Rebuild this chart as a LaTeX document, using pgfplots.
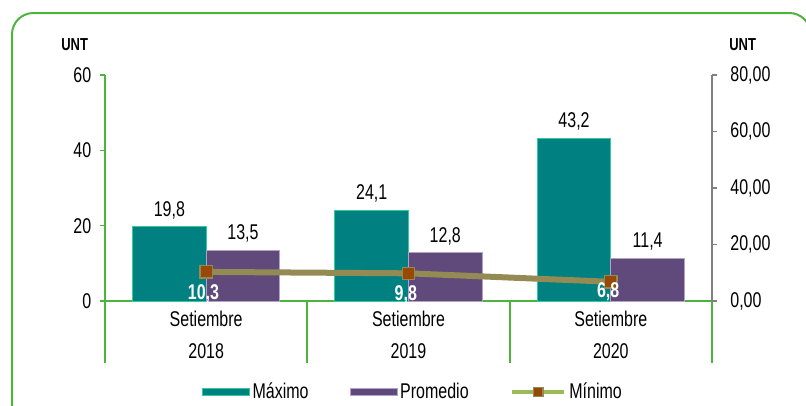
\documentclass[border=0pt]{standalone}
\usepackage{pgfplots}
\pgfplotsset{compat=1.18}
\usepackage{fontspec}
\setmainfont[FakeStretch=0.75]{Liberation Sans}
\definecolor{teal1}{HTML}{008080}
\definecolor{tealedge}{HTML}{33CC99}
\definecolor{purp}{HTML}{604A7B}
\definecolor{purpedge}{HTML}{B3A2C7}
\definecolor{olive1}{HTML}{948A54}
\definecolor{mbrown}{HTML}{984807}
\definecolor{lgreen}{HTML}{9BBB59}
\definecolor{gframe}{HTML}{4CB43C}
\definecolor{gaxis}{HTML}{808080}
\begin{document}
\begin{tikzpicture}
\useasboundingbox (0,0) rectangle (604.5pt,303.75pt);
\begin{scope}
\clip (0,0) rectangle (604.5pt,303.75pt);
\draw[gframe, line width=1.5pt, rounded corners=16pt] (9pt,-20pt) -- (9pt,294pt) -- (608pt,294pt) -- (608pt,-20pt);
\end{scope}
\node[font=\bfseries\fontsize{13}{15}\selectfont] at (56pt,270pt) {UNT};
\node[font=\bfseries\fontsize{13}{15}\selectfont] at (557pt,270pt) {UNT};
\begin{axis}[
  at={(78.75pt,78pt)}, anchor=south west,
  width=455.25pt, height=169.5pt, scale only axis,
  xmin=-0.5, xmax=2.5, ymin=0, ymax=60,
  ytick={0,20,40,60},
  xtick={0,1,2},
  xticklabels={Setiembre\\2018,Setiembre\\2019,Setiembre\\2020},
  xticklabel style={align=center, font=\fontsize{16}{24}\selectfont},
  yticklabel style={font=\fontsize{16}{18}\selectfont, xshift=-3pt},
  axis x line*=bottom, axis y line*=left,
  x axis line style={-, draw=gframe, line width=1.2pt},
  y axis line style={-, draw=gframe, line width=1.2pt},
  tick align=outside, major tick length=3.75pt,
  ytick style={draw=gframe, line width=1.2pt},
  xtick style={draw=none},
  clip=false,
  ybar=0pt, bar width=55.2pt,
  nodes near coords,
  every node near coord/.append style={font=\fontsize{16}{18}\selectfont, text=black, yshift=2pt, /pgf/number format/.cd, fixed, fixed zerofill, precision=1, use comma},
  /pgf/number format/assume math mode=true,
  legend style={at={(axis description cs:0.508,-0.403)}, anchor=center, draw=none, fill=none,
    legend columns=3, font=\fontsize{16}{18}\selectfont,
    /tikz/every even column/.append style={column sep=29pt}},
]
\addplot[fill=teal1, draw=tealedge, line width=0.75pt,
  legend image code/.code={\draw[fill=teal1, draw=tealedge, line width=0.75pt] (0pt,-2.5pt) rectangle (35pt,2.5pt);}]
  coordinates {(0,19.8) (1,24.1) (2,43.2)};
\addplot[fill=purp, draw=purpedge, line width=0.75pt,
  legend image code/.code={\draw[fill=purp, draw=purpedge, line width=0.75pt] (0pt,-2.5pt) rectangle (35pt,2.5pt);}]
  coordinates {(0,13.5) (1,12.8) (2,11.4)};
\addlegendimage{legend image code/.code={\draw[lgreen, line width=3.5pt] (0pt,0pt) -- (39pt,0pt); \filldraw[fill=mbrown, draw=olive1, line width=1pt] (16pt,-3.5pt) rectangle (23pt,3.5pt);}}
\legend{Máximo, Promedio, Mínimo}
\draw[gframe, line width=1.3pt] (axis cs:-0.5,0) -- ++(0pt,-46.5pt);
\draw[gframe, line width=1.3pt] (axis cs:0.5,0) -- ++(0pt,-46.5pt);
\draw[gframe, line width=1.3pt] (axis cs:1.5,0) -- ++(0pt,-46.5pt);
\draw[gframe, line width=1.3pt] (axis cs:2.5,0) -- ++(0pt,-46.5pt);
\end{axis}
\begin{axis}[
  at={(78.75pt,78pt)}, anchor=south west,
  width=455.25pt, height=169.5pt, scale only axis,
  xmin=-0.5, xmax=2.5, ymin=0, ymax=80,
  ytick={0,20,40,60,80}, xtick=\empty,
  axis y line*=right, axis x line=none,
  y axis line style={-, draw=gaxis, line width=1.2pt},
  ytick style={draw=gaxis, line width=1.2pt},
  tick align=outside, major tick length=3.75pt,
  yticklabel style={font=\fontsize{16}{18}\selectfont, xshift=6.5pt, /pgf/number format/.cd, fixed, fixed zerofill, precision=2, use comma},
  /pgf/number format/assume math mode=true,
]
\addplot[olive1, line width=4.5pt, mark=square*, mark size=4.6pt,
  mark options={fill=mbrown, draw=olive1, line width=1pt},
  nodes near coords,
  visualization depends on={\thisrow{dy} \as \labdy},
  every node near coord/.append style={font=\bfseries\fontsize{16}{18}\selectfont, text=white, anchor=north, yshift=\labdy pt, xshift=-2pt,
    /pgf/number format/.cd, fixed, fixed zerofill, precision=1, use comma}]
  table[x=x, y=y, meta=y] {
x y dy
0 10.3 -5.5
1 9.8 -5.5
2 6.8 3.5
};
\end{axis}
\end{tikzpicture}
\end{document}
